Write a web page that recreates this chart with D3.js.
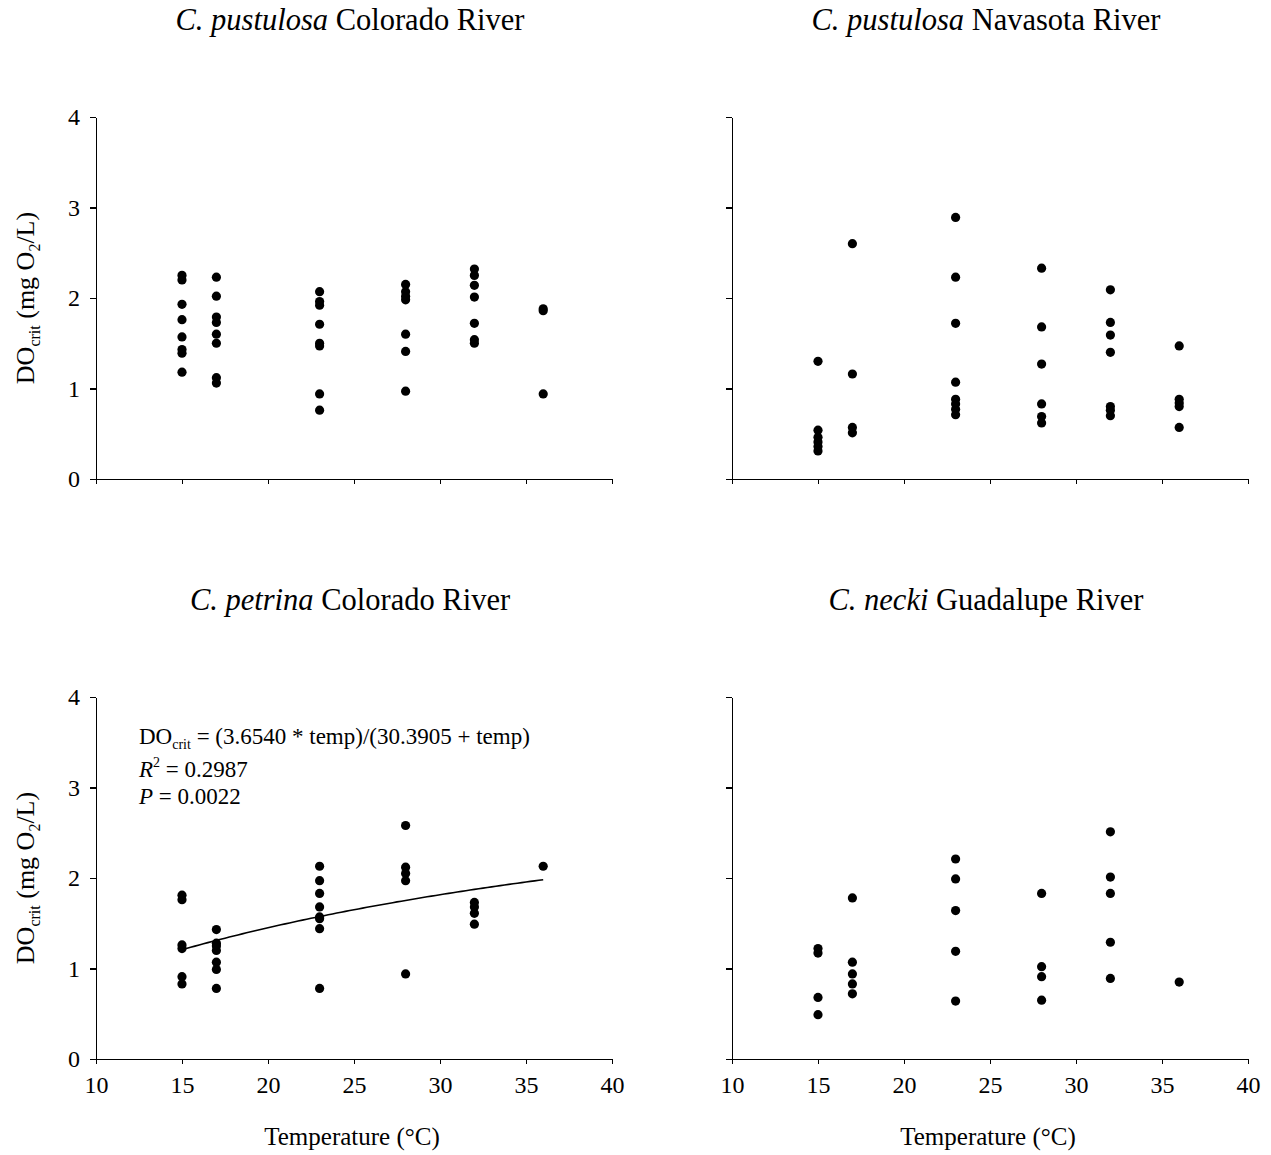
<!DOCTYPE html>
<html>
<head>
<meta charset="utf-8">
<script src="https://cdn.jsdelivr.net/npm/d3@7"></script>
<style>
  html, body { margin: 0; padding: 0; background: #fff; }
  svg { display: block; font-family: "Liberation Serif", "Times New Roman", serif; }
  .axis path, .axis line { stroke: #000; stroke-width: 1.2; shape-rendering: crispEdges; }
</style>
</head>
<body>
<svg id="chart" width="1271" height="1155"></svg>
<script>
// Four DOcrit-vs-temperature scatter panels (2 x 2). Each panel's values are
// grouped by acclimation temperature, one inner array per entry of TEMPS.

const TEMPS = [15, 17, 23, 28, 32, 36];

const pustulosaColorado = [
  [2.25, 2.20, 1.93, 1.76, 1.57, 1.43, 1.39, 1.18],
  [2.23, 2.02, 1.79, 1.73, 1.60, 1.50, 1.12, 1.06],
  [2.07, 1.96, 1.92, 1.71, 1.50, 1.47, 0.94, 0.76],
  [2.15, 2.07, 2.02, 1.98, 1.60, 1.41, 0.97],
  [2.32, 2.25, 2.14, 2.01, 1.72, 1.54, 1.50],
  [1.88, 1.86, 0.94],
];

const pustulosaNavasota = [
  [1.30, 0.54, 0.46, 0.41, 0.36, 0.31],
  [2.60, 1.16, 0.57, 0.51],
  [2.89, 2.23, 1.72, 1.07, 0.88, 0.83, 0.77, 0.71],
  [2.33, 1.68, 1.27, 0.83, 0.69, 0.62],
  [2.09, 1.73, 1.59, 1.40, 0.80, 0.76, 0.70],
  [1.47, 0.88, 0.84, 0.80, 0.57],
];

const petrinaColorado = [
  [1.81, 1.76, 1.26, 1.22, 0.91, 0.83],
  [1.43, 1.28, 1.25, 1.20, 1.07, 0.99, 0.78],
  [2.13, 1.97, 1.83, 1.68, 1.57, 1.55, 1.44, 0.78],
  [2.58, 2.12, 2.05, 1.97, 0.94],
  [1.73, 1.68, 1.61, 1.49],
  [2.13],
];

const neckiGuadalupe = [
  [1.22, 1.17, 0.68, 0.49],
  [1.78, 1.07, 0.94, 0.83, 0.72],
  [2.21, 1.99, 1.64, 1.19, 0.64],
  [1.83, 1.02, 0.91, 0.65],
  [2.51, 2.01, 1.83, 1.29, 0.89],
  [0.85],
];

// Michaelis-Menten fit shown for C. petrina
const FIT_A = 3.6540;
const FIT_B = 30.3905;
const FIT_RANGE = [15, 36];

const X_TICKS = [10, 15, 20, 25, 30, 35, 40];
const Y_TICKS = [0, 1, 2, 3, 4];

const panels = [
  { data: pustulosaColorado, species: 'C. pustulosa', river: 'Colorado River', col: 0, row: 0 },
  { data: pustulosaNavasota, species: 'C. pustulosa', river: 'Navasota River', col: 1, row: 0 },
  { data: petrinaColorado, species: 'C. petrina', river: 'Colorado River', col: 0, row: 1, fit: true },
  { data: neckiGuadalupe, species: 'C. necki', river: 'Guadalupe River', col: 1, row: 1 },
];

const FONT = '"Liberation Serif", "Times New Roman", serif';
const svg = d3.select('#chart');
const PANEL_LEFT = [96, 732];
const PANEL_TOP = [117, 697];
const PANEL_W = 516;
const PANEL_H = 362;

panels.forEach(renderPanel);

// d3 axes stamp sans-serif 10px on their group; force the figure's serif
// onto the tick text itself.
function styleAxis(sel) {
  sel.attr('font-family', FONT).attr('font-size', 24);
  sel.selectAll('text')
    .attr('fill', '#000')
    .style('font-family', FONT)
    .style('font-size', '24px');
}

function renderPanel(p) {
  const left = PANEL_LEFT[p.col];
  const top = PANEL_TOP[p.row];
  const g = svg.append('g').attr('transform', `translate(${left},${top})`);

  const x = d3.scaleLinear().domain([10, 40]).range([0, PANEL_W]);
  const y = d3.scaleLinear().domain([0, 4]).range([PANEL_H, 0]);

  const showXLabels = p.row === 1;
  const showYLabels = p.col === 0;

  const xAxis = d3.axisBottom(x).tickValues(X_TICKS).tickSize(5).tickSizeOuter(0).tickPadding(12)
    .tickFormat(showXLabels ? d3.format('d') : '');
  g.append('g').attr('class', 'axis').attr('transform', `translate(0,${PANEL_H})`).call(xAxis).call(styleAxis);

  const yAxis = d3.axisLeft(y).tickValues(Y_TICKS).tickSize(6).tickSizeOuter(0).tickPadding(10)
    .tickFormat(showYLabels ? d3.format('d') : '');
  g.append('g').attr('class', 'axis').call(yAxis).call(styleAxis);

  const points = p.data.flatMap((vals, i) => vals.map((v) => ({ t: TEMPS[i], v })));
  g.selectAll('circle.pt')
    .data(points)
    .join('circle')
    .attr('class', 'pt')
    .attr('cx', (d) => x(d.t))
    .attr('cy', (d) => y(d.v))
    .attr('r', 4.6)
    .attr('fill', '#000');

  // panel title: italic species + roman river name
  const title = svg.append('text')
    .attr('x', left + PANEL_W / 2 - 4)
    .attr('y', top - 87)
    .attr('text-anchor', 'middle')
    .attr('font-size', 30.5);
  title.append('tspan').attr('font-style', 'italic').text(p.species);
  title.append('tspan').text(' ' + p.river);

  if (showYLabels) {
    const yl = svg.append('text')
      .attr('transform', `translate(34,${top + PANEL_H / 2}) rotate(-90)`)
      .attr('text-anchor', 'middle')
      .attr('font-size', 26);
    yl.append('tspan').text('DO');
    yl.append('tspan').attr('font-size', 16).attr('dy', 6).text('crit');
    yl.append('tspan').attr('dy', -6).text(' (mg O');
    yl.append('tspan').attr('font-size', 16).attr('dy', 6).text('2');
    yl.append('tspan').attr('dy', -6).text('/L)');
  }

  if (showXLabels) {
    svg.append('text')
      .attr('x', left + PANEL_W / 2 - 2)
      .attr('y', top + PANEL_H + 86)
      .attr('text-anchor', 'middle')
      .attr('font-size', 25)
      .text('Temperature (°C)');
  }

  if (p.fit) {
    const curveT = d3.range(FIT_RANGE[0], FIT_RANGE[1] + 0.01, 0.25);
    const line = d3.line()
      .x((t) => x(t))
      .y((t) => y((FIT_A * t) / (FIT_B + t)));
    g.append('path')
      .datum(curveT)
      .attr('fill', 'none')
      .attr('stroke', '#000')
      .attr('stroke-width', 1.6)
      .attr('d', line);

    const eq = g.append('g').attr('font-size', 23).attr('transform', 'translate(43,0)');
    const l1 = eq.append('text').attr('y', 47);
    l1.append('tspan').text('DO');
    l1.append('tspan').attr('font-size', 14).attr('dy', 5).text('crit');
    l1.append('tspan').attr('dy', -5).text(' = (3.6540 * temp)/(30.3905 + temp)');

    const l2 = eq.append('text').attr('y', 80);
    l2.append('tspan').attr('font-style', 'italic').text('R');
    l2.append('tspan').attr('font-size', 14).attr('dy', -10).text('2');
    l2.append('tspan').attr('dy', 10).text(' = 0.2987');

    const l3 = eq.append('text').attr('y', 107);
    l3.append('tspan').attr('font-style', 'italic').text('P');
    l3.append('tspan').text(' = 0.0022');
  }
}
</script>
</body>
</html>
